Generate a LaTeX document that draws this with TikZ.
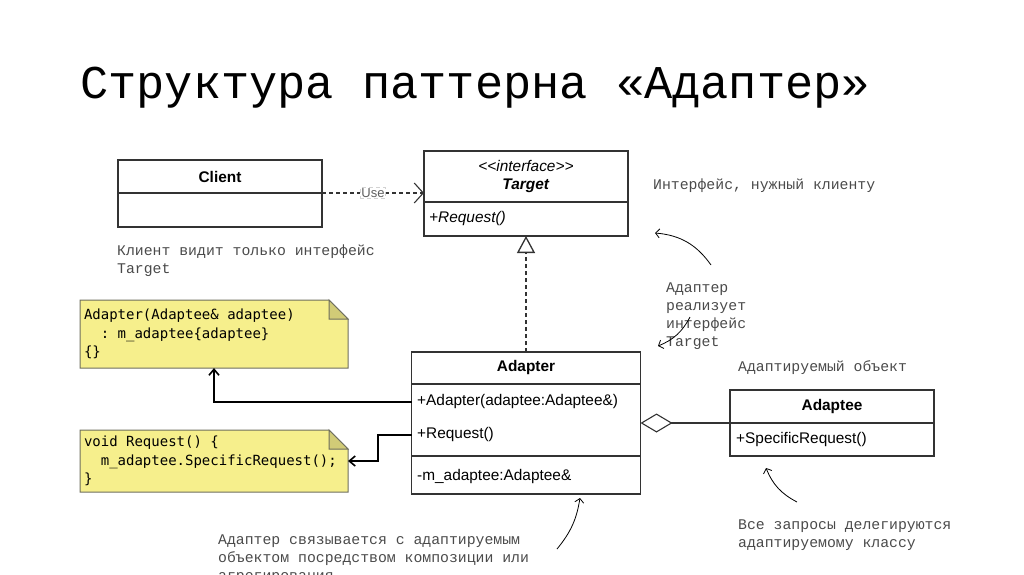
\documentclass[tikz,border=0pt]{standalone}
\usepackage{fontspec}
\setmainfont{Liberation Sans}
\setmonofont{Liberation Mono}
\newfontfamily\codefont{DejaVu Sans Mono}
\newcommand\codesp{\hspace*{0.602em}}
\usetikzlibrary{positioning,arrows.meta,backgrounds}

\definecolor{umlline}{HTML}{333333}
\definecolor{notefill}{HTML}{F6EF8C}
\definecolor{noteline}{HTML}{6E6E5E}
\definecolor{annot}{HTML}{4A4A4A}

\begin{document}
\begin{tikzpicture}[x=1pt, y=-1pt,
  cls/.style={draw=umlline, line width=1.1pt, fill=white, minimum width=204pt, inner sep=0pt, outer sep=0pt, font=\fontsize{15.4}{18}\selectfont, align=center},
  member/.style={anchor=west, inner sep=0pt, font=\fontsize{15.4}{18}\selectfont},
  note/.style={anchor=north west, inner xsep=4pt, inner ysep=0pt, outer sep=0pt, text width=260pt, align=left, font=\codefont\fontsize{14}{18.8}\selectfont},
  notebox/.style={draw=noteline, fill=notefill, line width=1pt, line join=miter},
  remark/.style={anchor=north west, inner sep=0pt, align=left, text=annot, font=\ttfamily\fontsize{14.8}{18}\selectfont},
  hint/.style={-{Straight Barb[length=4pt,width=9pt]}, line width=0.8pt},
  link/.style={-{Straight Barb[length=6pt,width=10pt]}, line width=1.6pt}
]
\useasboundingbox (0,0) rectangle (1024,574);
\clip (0,0) rectangle (1024,574);

% title
\node[anchor=base west, inner sep=0pt, font=\ttfamily\fontsize{47}{47}\selectfont] (title) at (80,98) {Структура паттерна «Адаптер»};

% classes
\node[cls, minimum height=33pt] (clientHead) at (220,176.5) {\textbf{Client}};
\node[cls, minimum height=34pt, below=0pt of clientHead] (clientBody) {};

\node[cls, minimum height=51pt] (targetHead) at (526,176.5) {\textit{{<}{<}interface{>}{>}}\\[0pt]\textbf{\textit{Target}}};
\node[cls, minimum height=34pt, below=0pt of targetHead] (targetBody) {};
\node[member] (tgReq) at (429,219) {\textit{+Request()}};

\node[cls, minimum width=229pt, minimum height=32pt] (adapterHead) at (526,368) {\textbf{Adapter}};
\node[cls, minimum width=229pt, minimum height=72pt, below=0pt of adapterHead] (adapterMethods) {};
\node[cls, minimum width=229pt, minimum height=38pt, below=0pt of adapterMethods] (adapterFields) {};
\node[member] (adCtor) at (417,402) {+Adapter(adaptee:Adaptee\&)};
\node[member] (adReq) at (417,435) {+Request()};
\node[member] (adField) at (417,477) {-m\_adaptee:Adaptee\&};

\node[cls, minimum height=33pt] (adapteeHead) at (832,406.5) {\textbf{Adaptee}};
\node[cls, minimum height=33pt, below=0pt of adapteeHead] (adapteeBody) {};
\node[member] (specReq) at (736,440) {+SpecificRequest()};

% code notes
\node[note, minimum height=68pt] (ctorNote) at (80,300) {Adapter(Adaptee\&\codesp adaptee)\\\codesp\codesp:\codesp m\_adaptee\{adaptee\}\\\{\}};
\node[note, minimum height=62pt] (reqNote) at (80,430) {void\codesp Request()\codesp\{\\\codesp\codesp m\_adaptee.SpecificRequest();\\\}};
\begin{scope}[on background layer]
  \foreach \n in {ctorNote, reqNote} {
    \draw[notebox] (\n.north west) -- ([xshift=-19pt]\n.north east) -- ([yshift=-19pt]\n.north east) -- (\n.south east) -- (\n.south west) -- cycle;
    \draw[notebox, fill=notefill!85!black] ([xshift=-19pt]\n.north east) |- ([yshift=-19pt]\n.north east) -- cycle;
  }
\end{scope}

% relations
\draw[umlline, line width=1.1pt, dash pattern=on 4pt off 3pt, -{Straight Barb[length=9pt,width=20pt]}]
  (clientHead.south east) -- node[pos=0.5, fill=white, draw=gray!35, inner sep=1pt, font=\fontsize{13}{15}\selectfont, text=gray!75!black] (useLabel) {Use} (targetHead.west |- clientHead.south east);
\draw[umlline, line width=1.3pt, dash pattern=on 4pt off 3pt, -{Triangle[open, fill=white, length=17pt, width=18pt]}]
  (adapterHead.north) -- (targetBody.south);
\draw[umlline, line width=1.1pt, {Diamond[open, fill=white, length=32pt, width=19pt]}-]
  (adapterMethods.east |- adapteeHead.south) -- (adapteeHead.south west);
\draw[link] (adapterMethods.west |- adCtor.west) -| (ctorNote.south);
\draw[link] (adapterMethods.west |- adReq.west) -| ([xshift=30pt]reqNote.east) -- (reqNote.east);

% remarks
\node[remark] (clientRemark) at (117,245) {Клиент видит только интерфейс\\Target};
\node[remark] (targetRemark) at (653,179) {Интерфейс, нужный клиенту};
\node[remark] (implRemark) at (666,283) {Адаптер\\реализует\\интерфейс\\Target};
\node[remark] (adapteeRemark) at (738,360) {Адаптируемый объект};
\node[remark] (delegRemark) at (738,520) {Все запросы делегируются\\адаптируемому классу};
\node[remark] (composRemark) at (218,535) {Адаптер связывается с адаптируемым\\объектом посредством композиции или\\агрегирования};

% hint arrows
\coordinate (targetTail) at (711,265);
\coordinate (targetTip) at (655,233);
\coordinate (implTail) at (690,317);
\coordinate (implTip) at (658,346);
\coordinate (composTail) at (557,549);
\coordinate (composTip) at (580,498);
\coordinate (delegTail) at (797,502);
\coordinate (delegTip) at (766,468);
\draw[hint] (targetTail) to[bend right=25] (targetTip);
\draw[hint] (implTail) to[bend left=20] (implTip);
\draw[hint] (composTail) to[bend right=15] (composTip);
\draw[hint] (delegTail) to[bend left=20] (delegTip);
\end{tikzpicture}
\end{document}
